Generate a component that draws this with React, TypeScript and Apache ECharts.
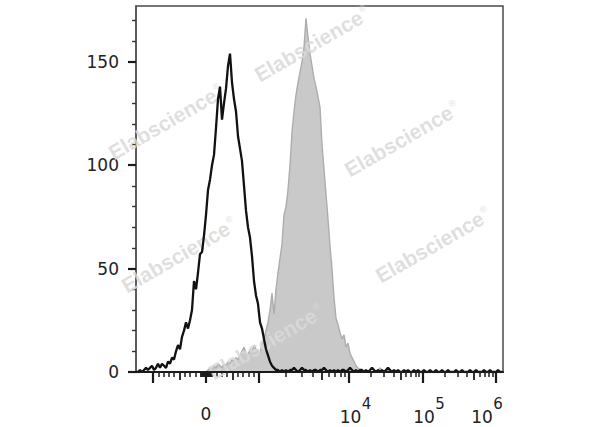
import React, { useEffect, useRef } from "react";
import * as echarts from "echarts";

// ---- data (display channel units along the biexponential x axis) ----
const binStep = 2;
const blackStart = 0;
const blackCounts = [
  0, 0, 1, 0, 1, 2, 1, 2, 3, 1,
  2, 4, 2, 4, 3, 2, 5, 4, 7, 6,
  10, 13, 11, 17, 20, 24, 21, 25, 30, 44,
  40, 48, 57, 58, 66, 76, 88, 93, 100, 105,
  118, 132, 138, 122, 130, 137, 148, 154, 140, 132,
  126, 114, 108, 102, 90, 78, 70, 65, 56, 44,
  37, 33, 24, 21, 16, 11, 8, 5, 3, 2,
  1, 1, 0, 1, 0,
  1, 0, 1, 1, 2, 1, 0, 1, 2, 1, 1, 0, 1, 0, 1, 1, 0, 1, 1, 2, 1, 0, 1, 0, 1,
  0, 1, 0, 1, 1, 0, 1, 2, 1, 0, 1, 0, 1, 1, 0, 1, 0, 1, 2, 1, 0, 1, 0, 1, 0,
  1, 2, 1, 0, 1, 0, 1, 0, 0, 1, 0, 1, 0, 0, 1, 0, 1, 0, 0, 1, 0, 0, 1, 0, 0,
  1, 0, 0, 1, 0, 0, 1, 0, 0, 0, 1, 0, 0, 1, 0, 0, 0, 1, 0, 0, 1, 0, 0, 0, 1,
  0, 0, 1, 0, 0, 0, 1, 0, 0,
];
const grayStart = 60;
const grayCounts = [
  0, 0, 0, 0, 0,
  0, 1, 2, 1, 3, 2, 4, 3, 2, 4,
  3, 5, 4, 6, 5, 7, 6, 8, 10, 12,
  9, 8, 11, 10, 13, 11, 10, 9, 14, 16,
  20, 24, 30, 38, 28, 40, 48, 55, 62, 76,
  80, 88, 100, 116, 126, 134, 140, 145, 150, 157,
  171, 162, 154, 148, 142, 138, 133, 128, 110, 98,
  86, 74, 61, 50, 36, 26, 23, 19, 16, 18,
  12, 14, 9, 7, 5, 3, 2, 1, 0, 0,
  0, 0, 0, 0, 0, 0, 1, 2, 1, 0, 0, 1, 0, 0, 0, 0, 0, 0, 0, 0,
  0, 0, 0, 0, 0, 0, 0, 0, 0, 0, 0, 0, 0, 0, 0,
  0,
];

// axis tick values (fluorescence intensity)
const xMajorTicks = [-1000, 0, 1000, 1e4, 1e5, 1e6];
const xMediumTicks = [-500, 500, 5000, 5e4, 5e5];
const xLabelValues = [0, 1e4, 1e5, 1e6];
const xLabelExponents = ["", "4", "5", "6"];
const yMajorTicks = [0, 50, 100, 150];
const yMinorTicks = [10, 20, 30, 40, 60, 70, 80, 90, 110, 120, 130, 140, 160, 170];
const watermarkText = "Elabscience";

// biexponential-style display transform: intensity -> display channel
function T(v: number): number {
  if (Math.abs(v) <= 1000) return 70 + 0.053 * v;
  if (v > 1000 && v <= 1e4) return 123 + 90 * Math.log10(v / 1000);
  if (v > 1e4) return 213 + 73.5 * Math.log10(v / 1e4);
  return 17 - 90 * Math.log10(-v / 1000);
}

function minorTickValues(): number[] {
  const out: number[] = [];
  for (let v = -90; v <= 90; v += 10) if (v !== 0) out.push(v);
  for (let v = -900; v <= 900; v += 100)
    if (v !== 0 && Math.abs(v) !== 500 && Math.abs(v) > 90) out.push(v);
  for (const d of [1000, 1e4, 1e5])
    for (let k = 2; k <= 9; k++) if (k !== 5) out.push(k * d);
  return out;
}

const X_MAX = 367;

export default function App() {
  const ref = useRef<HTMLDivElement>(null);
  useEffect(() => {
    if (!ref.current) return;
    const chart = echarts.init(ref.current, null, { renderer: "svg" });
    const font = "DejaVu Sans, Liberation Sans, Arial, sans-serif";
    const wmFont = "Liberation Sans, Arial, sans-serif";
    const inRange = (arr: number[]) => arr.map(T).filter((u) => u >= 0 && u <= X_MAX);
    const labelPos = xLabelValues.map(T);

    const blackData = blackCounts.map((n, i) => [blackStart + i * binStep, n]);
    const grayData = grayCounts.map((n, i) => [grayStart + i * binStep, n]);

    const baseX = {
      type: "value" as const,
      gridIndex: 0,
      position: "bottom" as const,
      min: 0,
      max: X_MAX,
      splitLine: { show: false },
    };

    const marks = [
      { x: 312, y: 44 },
      { x: 166, y: 122 },
      { x: 402, y: 139 },
      { x: 433, y: 245 },
      { x: 179, y: 255 },
      { x: 266, y: 342 },
    ];

    const txt = { fontFamily: font, color: "#222" };

    chart.setOption({
      animation: false,
      backgroundColor: "#ffffff",
      grid: {
        left: 136,
        right: 97,
        top: 6,
        bottom: 55,
        show: true,
        borderColor: "#4a4a4a",
        borderWidth: 1.5,
        backgroundColor: "transparent",
      },
      xAxis: [
        {
          ...baseX,
          z: 5,
          axisLine: { show: true, lineStyle: { color: "#1a1a1a", width: 2 } },
          axisTick: {
            show: true,
            customValues: inRange(xMajorTicks),
            length: 11,
            lineStyle: { color: "#1a1a1a", width: 2.2 },
          },
          axisLabel: {
            show: true,
            customValues: labelPos,
            margin: 28,
            formatter: (val: number) => {
              let idx = 0;
              let best = Infinity;
              labelPos.forEach((p, i) => {
                const d = Math.abs(p - val);
                if (d < best) {
                  best = d;
                  idx = i;
                }
              });
              const e = xLabelExponents[idx];
              if (!e) return "{z|0}";
              if (idx === xLabelValues.length - 1) return `{s6|${e}}\n{b6|10}`;
              return `{s|${e}}\n{b|10}`;
            },
            rich: {
              z: { ...txt, fontSize: 17, lineHeight: 17, padding: [10, 0, 0, 0] },
              s: { ...txt, fontSize: 15, lineHeight: 8, align: "left", padding: [0, 0, 0, 35] },
              b: { ...txt, fontSize: 17, lineHeight: 17, align: "left", padding: [0, 9, 0, 13] },
              s6: { ...txt, fontSize: 15, lineHeight: 8, align: "left", padding: [0, 0, 0, 22] },
              b6: { ...txt, fontSize: 17, lineHeight: 17, align: "left", padding: [0, 28, 0, 0] },
            },
          },
        },
        {
          ...baseX,
          axisLine: { show: false },
          axisLabel: { show: false },
          axisTick: {
            show: true,
            customValues: inRange(xMediumTicks),
            length: 8,
            lineStyle: { color: "#1a1a1a", width: 1.8 },
          },
        },
        {
          ...baseX,
          axisLine: { show: false },
          axisLabel: { show: false },
          axisTick: {
            show: true,
            customValues: inRange(minorTickValues()),
            length: 5,
            lineStyle: { color: "#1a1a1a", width: 1.5 },
          },
        },
      ],
      yAxis: [
        {
          type: "value",
          position: "left",
          min: 0,
          max: 177,
          splitLine: { show: false },
          axisLine: { show: true, lineStyle: { color: "#555", width: 1.5 } },
          axisTick: {
            show: true,
            customValues: yMajorTicks,
            length: 8,
            lineStyle: { color: "#1a1a1a", width: 2.2 },
          },
          axisLabel: {
            show: true,
            customValues: yMajorTicks,
            margin: 17,
            fontSize: 17,
            fontFamily: font,
            color: "#222",
          },
        },
        {
          type: "value",
          position: "left",
          min: 0,
          max: 177,
          splitLine: { show: false },
          axisLine: { show: false },
          axisLabel: { show: false },
          axisTick: {
            show: true,
            customValues: yMinorTicks,
            length: 4,
            lineStyle: { color: "#333", width: 1.4 },
          },
        },
      ],
      graphic: marks.map((m) => ({
        type: "text",
        x: m.x,
        y: m.y,
        rotation: Math.PI / 6,
        z: 2,
        silent: true,
        style: {
          text: `{a|${watermarkText}}{r|®}`,
          align: "center",
          verticalAlign: "middle",
          rich: {
            a: { fontSize: 21, fontWeight: "bold", fontFamily: wmFont, fill: "rgba(218,218,218,0.85)", color: "rgba(218,218,218,0.85)" },
            r: { fontSize: 9, fontFamily: wmFont, verticalAlign: "top", fill: "rgba(218,218,218,0.85)", color: "rgba(218,218,218,0.85)", padding: [0, 0, 12, 1] },
          },
        },
      })),
      series: [
        {
          type: "line",
          xAxisIndex: 0,
          yAxisIndex: 0,
          z: 1,
          data: grayData,
          showSymbol: false,
          symbol: "none",
          lineStyle: { color: "#adadad", width: 1.4 },
          areaStyle: { color: "#c9c9c9", opacity: 1 },
        },
        {
          type: "line",
          xAxisIndex: 0,
          yAxisIndex: 0,
          z: 3,
          data: blackData,
          showSymbol: false,
          symbol: "none",
          lineStyle: { color: "#111", width: 2.3 },
        },
      ],
    });
    return () => chart.dispose();
  }, []);

  return (
    <div
      ref={ref}
      style={{ position: "absolute", left: 0, top: 0, width: 600, height: 427, background: "#fff" }}
    />
  );
}
